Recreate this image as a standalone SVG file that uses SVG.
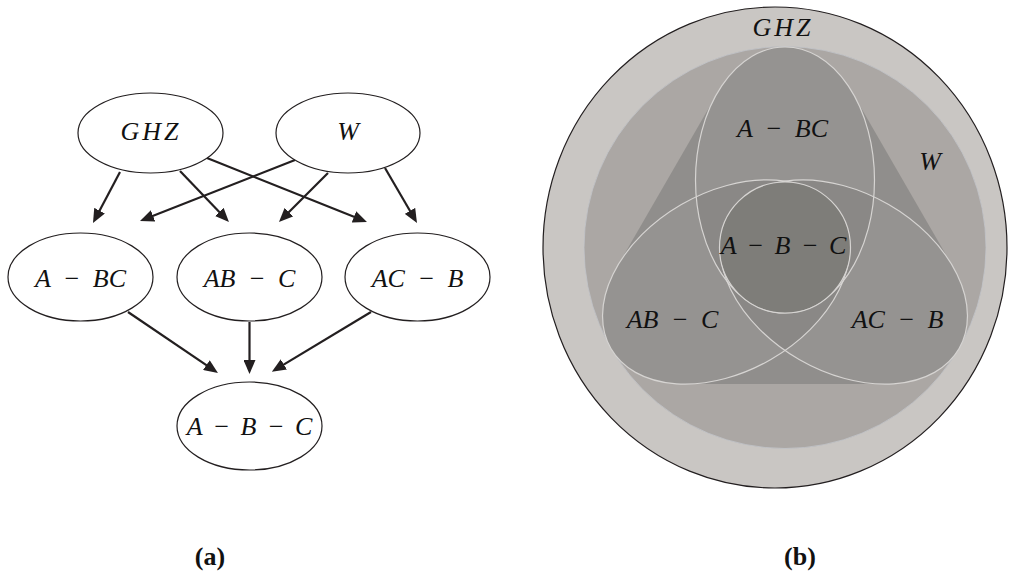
<svg xmlns="http://www.w3.org/2000/svg" xmlns:xlink="http://www.w3.org/1999/xlink" width="1020" height="572" viewBox="0 0 1020 572">
<style>
.node{fill:#ffffff;stroke:#231f20;stroke-width:1.2}
.m{font-family:"Liberation Serif","DejaVu Serif",serif;font-style:italic;font-size:26px;fill:#111;text-anchor:middle;word-spacing:6px}
.m3{word-spacing:4px}
.ghz{letter-spacing:3px}
.edge{stroke:#231f20;stroke-width:2.2;fill:none;marker-end:url(#ah)}
.cap{font-family:"Liberation Serif","DejaVu Serif",serif;font-weight:bold;font-size:26px;fill:#111;text-anchor:middle}
.eline{fill:none;stroke:#d6d4d2;stroke-width:1.2}
</style>
<defs>
<marker id="ah" viewBox="0 0 14 12" markerUnits="userSpaceOnUse" markerWidth="14" markerHeight="12" refX="8" refY="6" orient="auto">
<path d="M0,0 L14,6 L0,12 z" fill="#231f20"/>
</marker>
<ellipse id="eT" cx="785" cy="180" rx="89.5" ry="133"/>
<ellipse id="eL" cx="726.1" cy="282" rx="133" ry="89.5" transform="rotate(-30 726.1 282)"/>
<ellipse id="eR" cx="843.9" cy="282" rx="133" ry="89.5" transform="rotate(30 843.9 282)"/>
<clipPath id="cT"><use xlink:href="#eT"/></clipPath>
<clipPath id="cL"><use xlink:href="#eL"/></clipPath>
<clipPath id="cR"><use xlink:href="#eR"/></clipPath>
</defs>

<!-- (a) graph -->
<g id="edges">
<line class="edge" x1="120" y1="172" x2="95.8" y2="217.7"/>
<line class="edge" x1="180" y1="171" x2="224.8" y2="217.7"/>
<line class="edge" x1="207" y1="158" x2="361.4" y2="219.8"/>
<line class="edge" x1="295" y1="160" x2="145.6" y2="218.8"/>
<line class="edge" x1="328" y1="173" x2="283.2" y2="217.8"/>
<line class="edge" x1="385" y1="168" x2="414" y2="217.8"/>
<line class="edge" x1="128" y1="312" x2="213" y2="369.6"/>
<line class="edge" x1="249.5" y1="322" x2="249.5" y2="368"/>
<line class="edge" x1="371" y1="312" x2="277" y2="368.6"/>
</g>
<g id="n-ghz"><ellipse class="node" cx="150.5" cy="133" rx="72.5" ry="40"/><text class="m ghz" x="151" y="140">GHZ</text></g>
<g id="n-w"><ellipse class="node" cx="348" cy="133" rx="72" ry="40"/><text class="m" x="348" y="140">W</text></g>
<g id="n-abc1"><ellipse class="node" cx="80.5" cy="277" rx="72.5" ry="44"/><text class="m" x="80.5" y="287">A − BC</text></g>
<g id="n-abc2"><ellipse class="node" cx="249.5" cy="277" rx="72.5" ry="44"/><text class="m" x="249.5" y="287">AB − C</text></g>
<g id="n-abc3"><ellipse class="node" cx="417.5" cy="277" rx="72.5" ry="44"/><text class="m" x="417.5" y="287">AC − B</text></g>
<g id="n-sep"><ellipse class="node" cx="249.5" cy="426" rx="72.5" ry="44"/><text class="m m3" x="249.5" y="435">A − B − C</text></g>
<text class="cap" x="210" y="565">(a)</text>

<!-- (b) nested sets -->
<g id="set-ghz"><ellipse cx="775" cy="247.5" rx="232" ry="240.5" fill="#c9c6c3" stroke="#231f20" stroke-width="1.2"/></g>
<g id="set-w"><circle cx="785" cy="247.5" r="201" fill="#aba7a4" stroke="#c3c5ca" stroke-width="0.8"/></g>
<g id="set-hull"><path d="M717.2,93.4 A89.5,133 0 0 1 852.8,93.4 L952.8,266.6 A133,89.5 30 0 1 885,384 L685,384 A133,89.5 -30 0 1 617.2,266.6 Z" fill="#908e8c"/></g>
<g id="set-bisep">
<use xlink:href="#eT" fill="#959391"/>
<use xlink:href="#eL" fill="#959391"/>
<use xlink:href="#eR" fill="#959391"/>
<use xlink:href="#eT" fill="#8a8886" clip-path="url(#cL)"/>
<use xlink:href="#eT" fill="#8a8886" clip-path="url(#cR)"/>
<use xlink:href="#eL" fill="#8a8886" clip-path="url(#cR)"/>
<use xlink:href="#eT" class="eline"/>
<use xlink:href="#eL" class="eline"/>
<use xlink:href="#eR" class="eline"/>
</g>
<g id="set-sep"><circle cx="785" cy="247.5" r="65.5" fill="#7e7d79" stroke="#d6d4d2" stroke-width="1.2"/></g>
<text class="m ghz" x="783" y="36">GHZ</text>
<text class="m" x="930" y="170">W</text>
<text class="m" x="782.5" y="137">A − BC</text>
<text class="m m3" x="783.5" y="254">A − B − C</text>
<text class="m" x="672.5" y="328">AB − C</text>
<text class="m" x="897.5" y="328">AC − B</text>
<text class="cap" x="800" y="565">(b)</text>
</svg>
